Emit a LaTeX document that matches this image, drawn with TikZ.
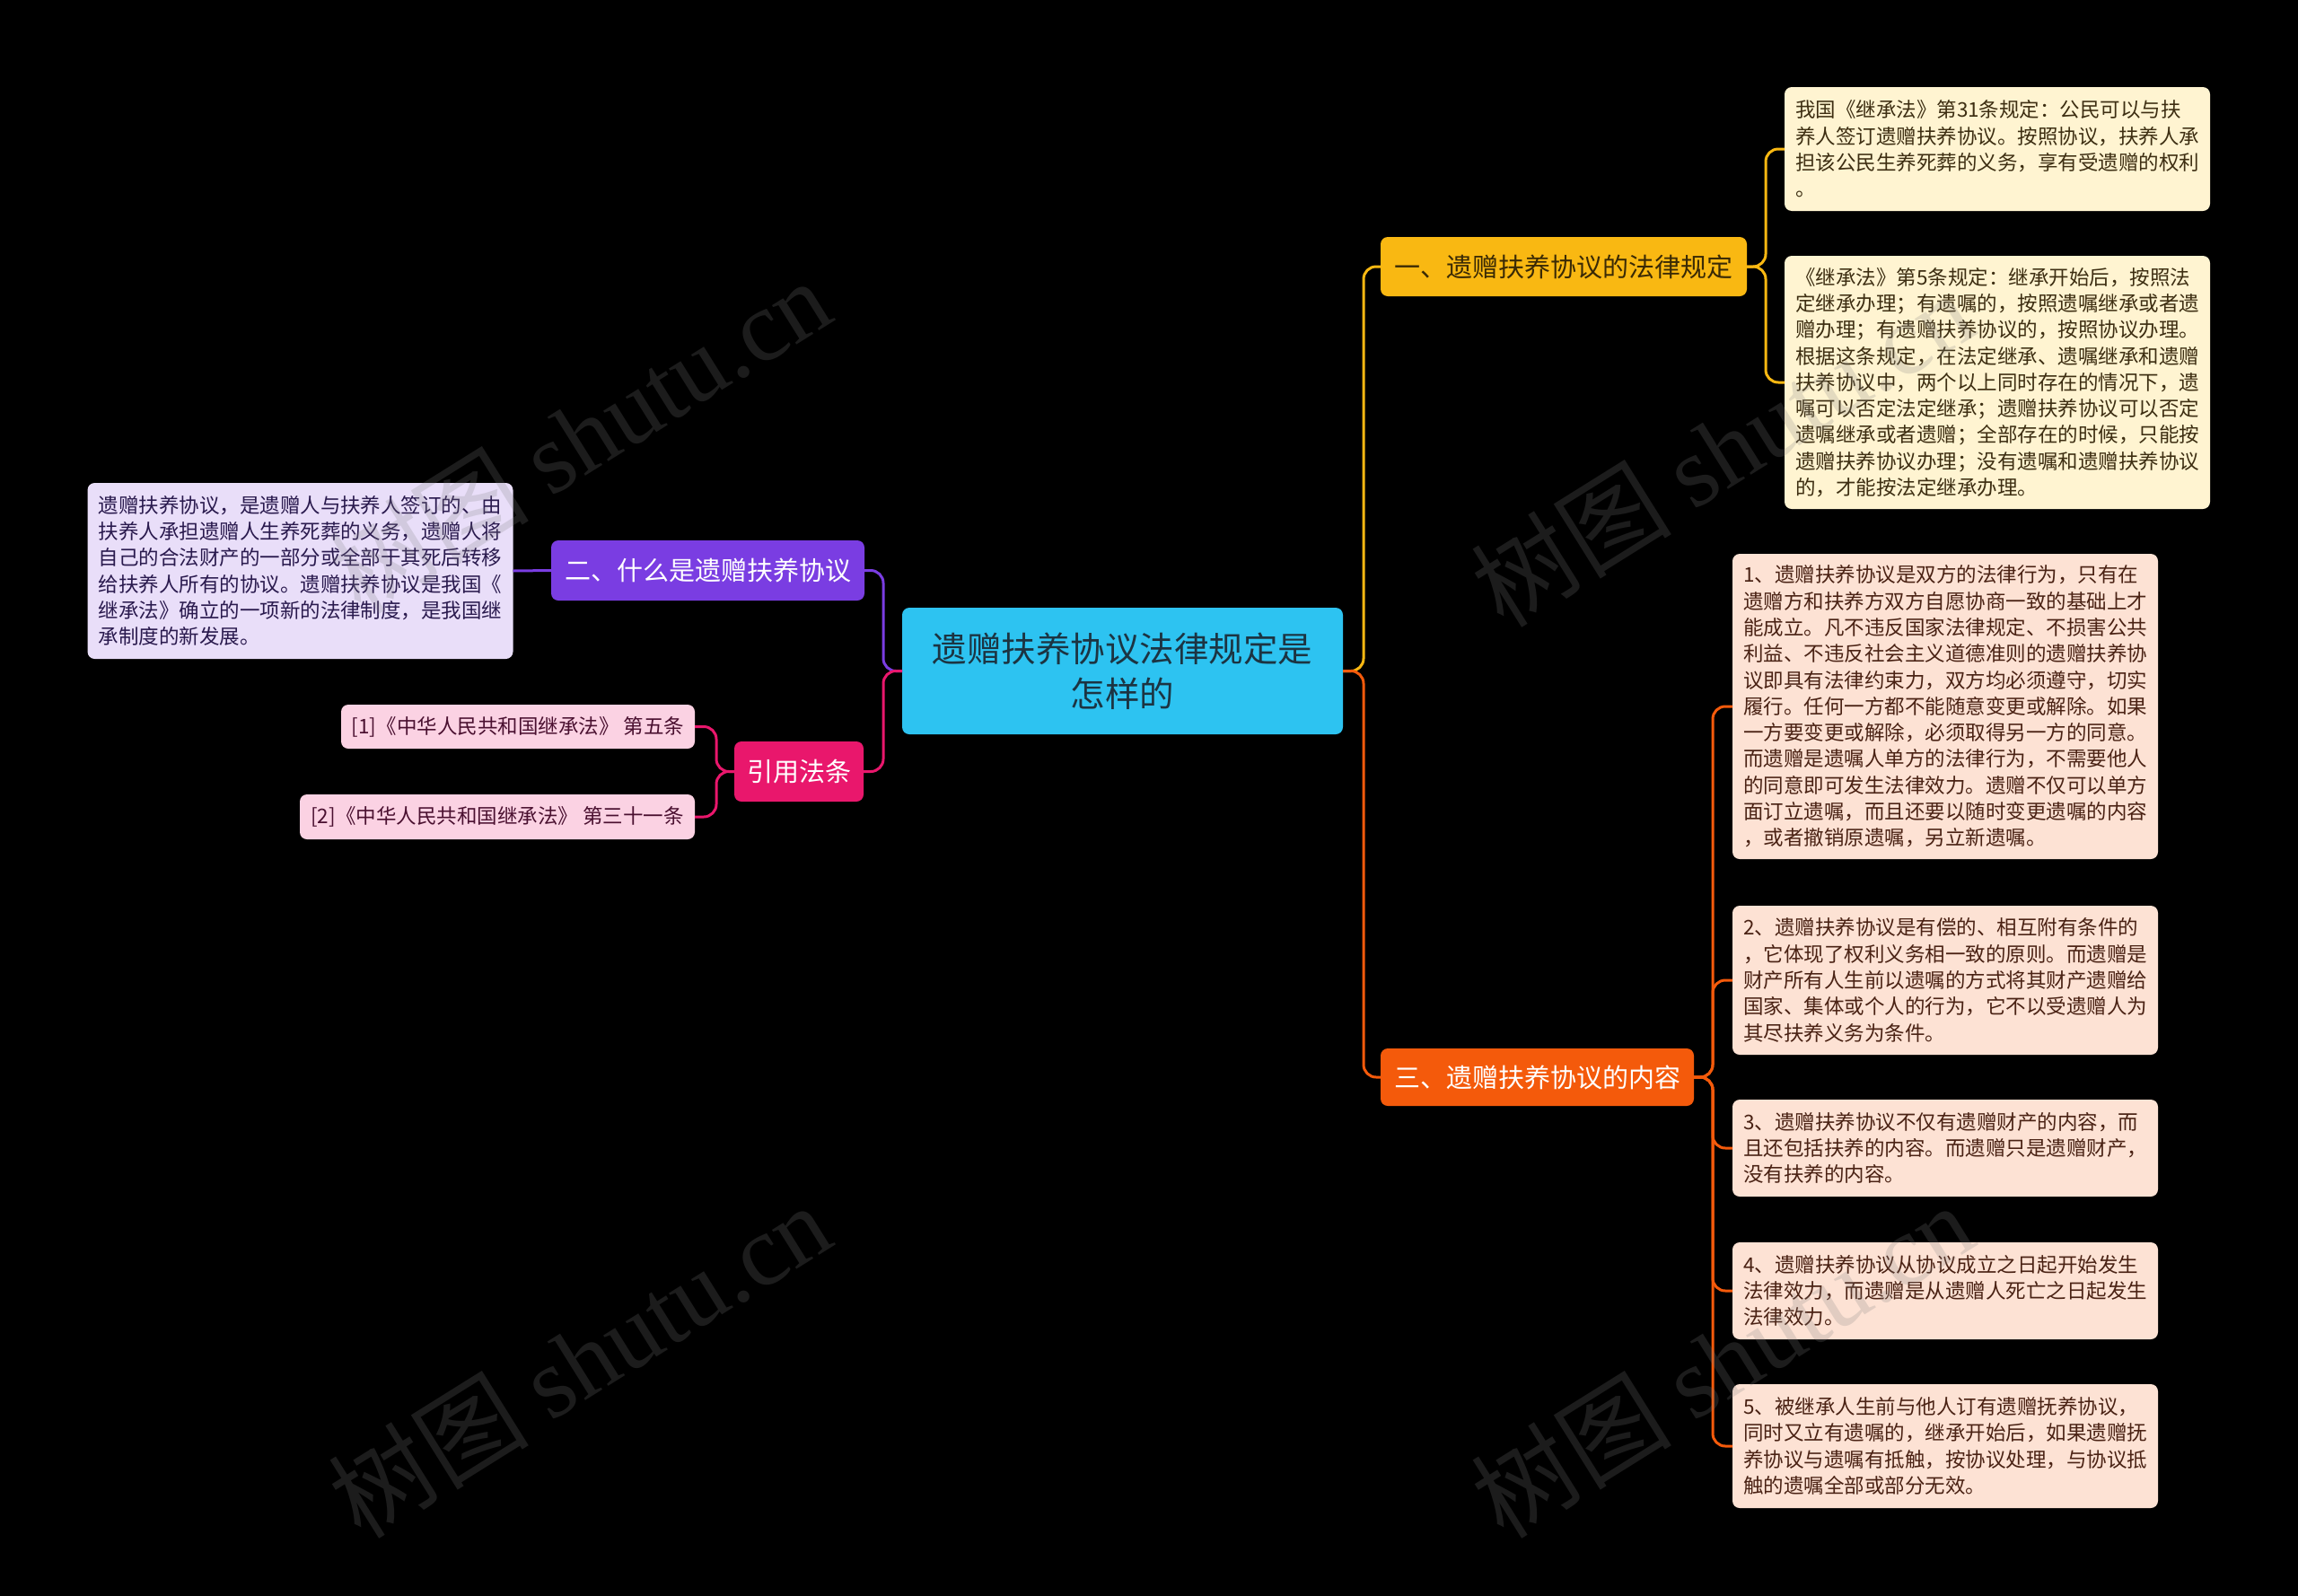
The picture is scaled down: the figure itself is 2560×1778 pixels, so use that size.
\documentclass[tikz,border=0pt]{standalone}
\usepackage{fontspec}
\setmainfont{Noto Sans CJK SC}
\newfontfamily\wmserif{Liberation Serif}
\definecolor{rootc}{HTML}{2DC3F1}
\definecolor{roott}{HTML}{1C3442}
\definecolor{yel}{HTML}{F9B812}
\definecolor{yeltext}{HTML}{3A2A05}
\definecolor{yelleaf}{HTML}{FFF4D1}
\definecolor{yelleaft}{HTML}{3D2E12}
\definecolor{org}{HTML}{F45A0B}
\definecolor{orgleaf}{HTML}{FDE2D4}
\definecolor{orgleaft}{HTML}{4A2214}
\definecolor{pur}{HTML}{7A3DE2}
\definecolor{purleaf}{HTML}{E9DEF9}
\definecolor{purleaft}{HTML}{2A1A4E}
\definecolor{pnk}{HTML}{E9176C}
\definecolor{pnkleaf}{HTML}{FBD2E3}
\definecolor{pnkleaft}{HTML}{4A1030}
\tikzset{
  box/.style={rounded corners=8pt, inner ysep=0pt, outer sep=0pt},
  rootbox/.style={box, fill=rootc, text=roott, align=center, minimum width=491pt, minimum height=141pt,
     font=\fontsize{38.5}{50}\selectfont},
  branchbox/.style={box, align=center, inner xsep=0pt, font=\fontsize{29}{35}\selectfont},
  leafbox/.style={box, align=left, inner xsep=12pt, text width=450pt, font=\fontsize{22.5}{29.3}\selectfont},
  leafY/.style={leafbox, fill=yelleaf, text=yelleaft},
  leafO/.style={leafbox, fill=orgleaf, text=orgleaft},
  leafP/.style={leafbox, fill=purleaf, text=purleaft},
  leafK/.style={box, align=center, inner xsep=0pt, fill=pnkleaf, text=pnkleaft, font=\fontsize{22.5}{29.3}\selectfont},
  conn/.style={line width=3pt, rounded corners=14pt},
  wm/.style={text=gray, opacity=0.22, font=\fontsize{112}{112}\selectfont, rotate=32}
}
\begin{document}
\begin{tikzpicture}[x=1pt,y=-1pt]
\useasboundingbox (0,0) rectangle (2560,1778);
\fill[black] (0,0) rectangle (2560,1778);

% root
\node[rootbox] (root) at (1250.5,747.5) {遗赠扶养协议法律规定是\\怎样的};

% branches
\node[branchbox, fill=yel, text=yeltext, minimum width=408pt, minimum height=66pt] (b1) at (1742,297) {一、遗赠扶养协议的法律规定};
\node[branchbox, fill=org, text=white, minimum width=349pt, minimum height=64pt] (b3) at (1712.5,1200) {三、遗赠扶养协议的内容};
\node[branchbox, fill=pur, text=white, minimum width=349pt, minimum height=67pt] (b2) at (788.5,635.5) {二、什么是遗赠扶养协议};
\node[branchbox, fill=pnk, text=white, minimum width=144pt, minimum height=67pt] (b4) at (890,859.5) {引用法条};

% leaves of b1
\node[leafY, minimum height=138pt] (l1a) at (2225,166) {我国《继承法》第31条规定：公民可以与扶\\养人签订遗赠扶养协议。按照协议，扶养人承\\担该公民生养死葬的义务，享有受遗赠的权利\\。};
\node[leafY, minimum height=282pt] (l1b) at (2225,426) {《继承法》第5条规定：继承开始后，按照法\\定继承办理；有遗嘱的，按照遗嘱继承或者遗\\赠办理；有遗赠扶养协议的，按照协议办理。\\根据这条规定，在法定继承、遗嘱继承和遗赠\\扶养协议中，两个以上同时存在的情况下，遗\\嘱可以否定法定继承；遗赠扶养协议可以否定\\遗嘱继承或者遗赠；全部存在的时候，只能按\\遗赠扶养协议办理；没有遗嘱和遗赠扶养协议\\的，才能按法定继承办理。};

% leaves of b3
\node[leafO, minimum height=340pt] (l31) at (2167,787) {1、遗赠扶养协议是双方的法律行为，只有在\\遗赠方和扶养方双方自愿协商一致的基础上才\\能成立。凡不违反国家法律规定、不损害公共\\利益、不违反社会主义道德准则的遗赠扶养协\\议即具有法律约束力，双方均必须遵守，切实\\履行。任何一方都不能随意变更或解除。如果\\一方要变更或解除，必须取得另一方的同意。\\而遗赠是遗嘱人单方的法律行为，不需要他人\\的同意即可发生法律效力。遗赠不仅可以单方\\面订立遗嘱，而且还要以随时变更遗嘱的内容\\，或者撤销原遗嘱，另立新遗嘱。};
\node[leafO, minimum height=166pt] (l32) at (2167,1092) {2、遗赠扶养协议是有偿的、相互附有条件的\\，它体现了权利义务相一致的原则。而遗赠是\\财产所有人生前以遗嘱的方式将其财产遗赠给\\国家、集体或个人的行为，它不以受遗赠人为\\其尽扶养义务为条件。};
\node[leafO, minimum height=108pt] (l33) at (2167,1279) {3、遗赠扶养协议不仅有遗赠财产的内容，而\\且还包括扶养的内容。而遗赠只是遗赠财产，\\没有扶养的内容。};
\node[leafO, minimum height=108pt] (l34) at (2167,1438) {4、遗赠扶养协议从协议成立之日起开始发生\\法律效力，而遗赠是从遗赠人死亡之日起发生\\法律效力。};
\node[leafO, minimum height=138pt] (l35) at (2167,1611) {5、被继承人生前与他人订有遗赠抚养协议，\\同时又立有遗嘱的，继承开始后，如果遗赠抚\\养协议与遗嘱有抵触，按协议处理，与协议抵\\触的遗嘱全部或部分无效。};

% leaf of b2
\node[leafP, minimum height=196pt] (l2) at (334.5,636) {遗赠扶养协议，是遗赠人与扶养人签订的、由\\扶养人承担遗赠人生养死葬的义务，遗赠人将\\自己的合法财产的一部分或全部于其死后转移\\给扶养人所有的协议。遗赠扶养协议是我国《\\继承法》确立的一项新的法律制度，是我国继\\承制度的新发展。};

% leaves of b4
\node[leafK, minimum width=394pt, minimum height=49pt] (l4a) at (577,809.5) {[1]《中华人民共和国继承法》 第五条};
\node[leafK, minimum width=440pt, minimum height=50pt] (l4b) at (554,910) {[2]《中华人民共和国继承法》 第三十一条};

% connectors
\draw[conn, yel] (root.east) -- ([xshift=23pt]root.east) |- (b1.west);
\draw[conn, org] (root.east) -- ([xshift=23pt]root.east) |- (b3.west);
\draw[conn, pur] (root.west) -- ([xshift=-21pt]root.west) |- (b2.east);
\draw[conn, pnk] (root.west) -- ([xshift=-21pt]root.west) |- (b4.east);

\draw[conn, yel] (b1.east) -- ([xshift=21pt]b1.east) |- (l1a.west);
\draw[conn, yel] (b1.east) -- ([xshift=21pt]b1.east) |- (l1b.west);

\foreach \n in {l31,l32,l33,l34,l35}
  \draw[conn, org] (b3.east) -- ([xshift=21pt]b3.east) |- (\n.west);

\draw[conn, pur] (b2.west) -- (l2.east);

\draw[conn, pnk] (b4.west) -- ([xshift=-20pt]b4.west) |- (l4a.east);
\draw[conn, pnk] (b4.west) -- ([xshift=-20pt]b4.west) |- (l4b.east);

% watermarks
\node[wm] (wm1) at (645,485) {树图 {\wmserif shutu.cn}};
\node[wm] (wm2) at (645,1515) {树图 {\wmserif shutu.cn}};
\node[wm] (wm3) at (1918,500) {树图 {\wmserif shutu.cn}};
\node[wm] (wm4) at (1918,1515) {树图 {\wmserif shutu.cn}};
\end{tikzpicture}
\end{document}
